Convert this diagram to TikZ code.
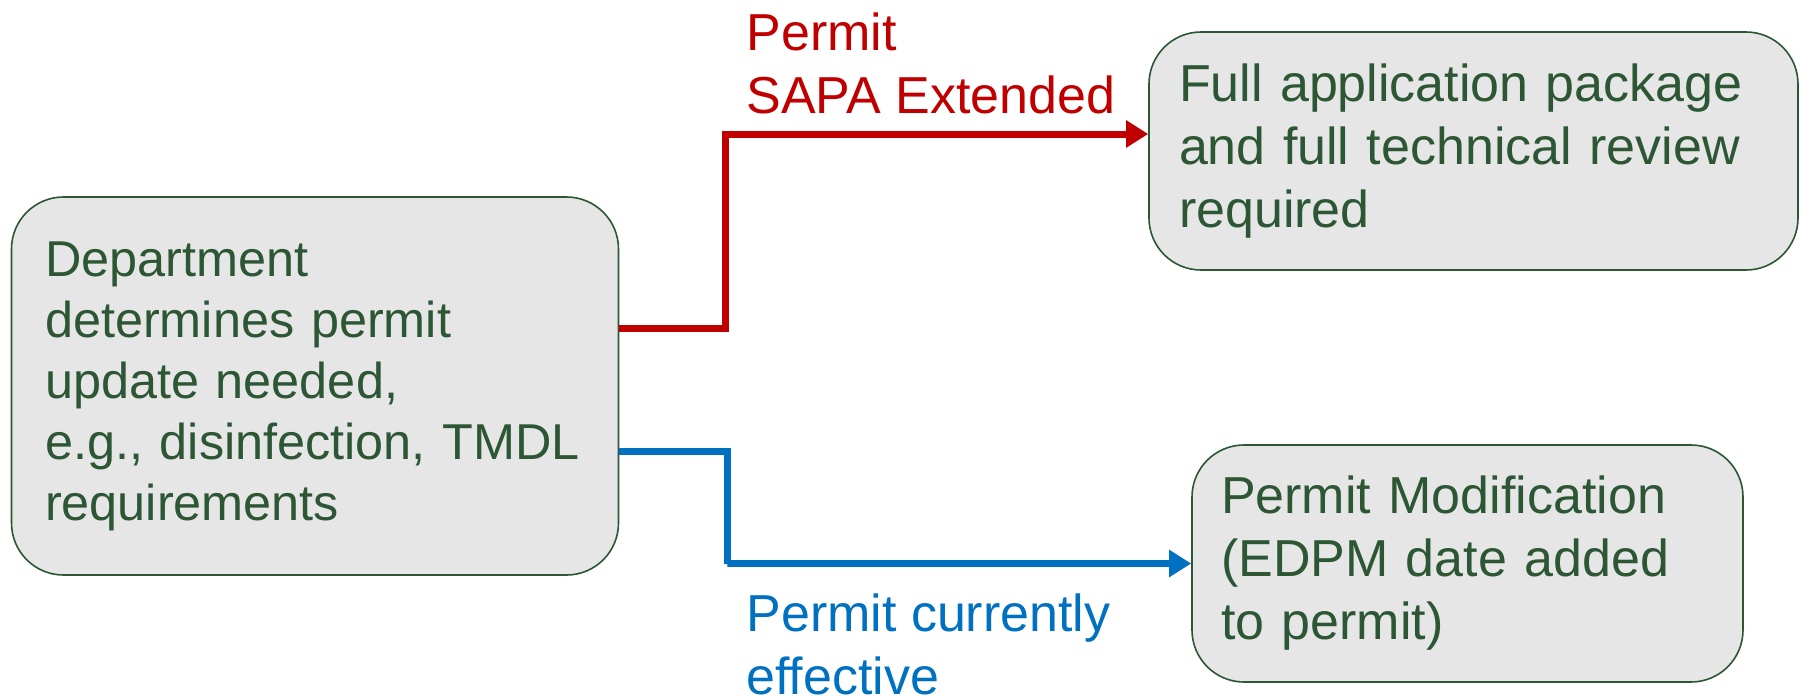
\documentclass[tikz,border=0pt]{standalone}
\usepackage{fontspec}
\setmainfont{Liberation Sans}
\usetikzlibrary{arrows.meta}
\definecolor{boxgreen}{RGB}{44,86,52}
\definecolor{boxfill}{RGB}{230,230,230}
\definecolor{sapared}{RGB}{192,0,0}
\definecolor{effblue}{RGB}{0,112,192}

\begin{document}
\begin{tikzpicture}[x=0.5pt,y=-0.5pt,line join=miter,
  main node/.style={rectangle,rounded corners=26pt,draw=boxgreen,fill=boxfill,line width=0.8pt,
    text=boxgreen,align=left,inner ysep=0pt,font=\fontsize{26}{31.5}\selectfont},
  branch/.style={line width=3.5pt,-{Triangle[length=11pt,width=13pt]}},
  branch label/.style={anchor=west,align=left,inner sep=0pt,font=\fontsize{26}{31.5}\selectfont}]
  \useasboundingbox (0,0) rectangle (1800,696);
  \node[main node, text width=270pt, inner xsep=16.75pt, minimum height=189pt,
    font=\fontsize{25.2}{30.5}\selectfont] (dept) at (315,386)
    {Department\\determines permit\\update needed,\\e.g., disinfection, TMDL\\requirements};
  \node[main node, text width=294.5pt, inner xsep=15pt, minimum height=119pt] (full) at (1473.5,151)
    {Full application package\\and full technical review\\required};
  \node[main node, text width=246.5pt, inner xsep=14.5pt, minimum height=118.5pt] (edpm) at (1467.5,563.5)
    {Permit Modification\\(EDPM date added\\to permit)};
  % branch corners
  \coordinate (redbend) at (725,134);
  \coordinate (bluebend) at (727,564);
  \draw[branch, sapared] ([yshift=29pt]dept.east) -| (redbend) |- ([yshift=8.5pt]full.west);
  \draw[branch, effblue] ([yshift=-32.5pt]dept.east) -| (bluebend) |- (edpm.west);
  \node[branch label, text=sapared] (sapalbl) at (746,63.5) {Permit\\SAPA Extended};
  \node[branch label, text=effblue] (efflbl) at (746,644.5) {Permit currently\\effective};
\end{tikzpicture}
\end{document}
